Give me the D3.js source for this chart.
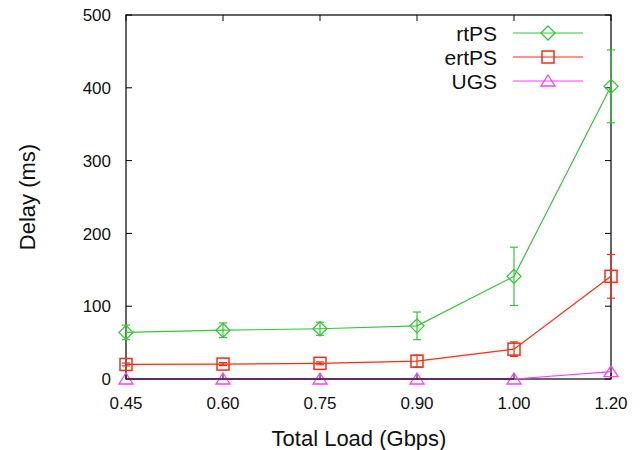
<!DOCTYPE html>
<html><head><meta charset="utf-8">
<script src="https://cdn.jsdelivr.net/npm/d3@7"></script>
<style>body{margin:0;background:#fff}svg{display:block}text{font-family:"Liberation Sans",Arial,sans-serif;fill:#111}</style>
</head><body>
<script>
const categories = ["0.45","0.60","0.75","0.90","1.00","1.20"];
const yTicks = [0,100,200,300,400,500];
const rtPS = [64,67,69,73,141,402];
const rtPSErr = [10,10,9,19,40,50];
const ertPS = [20,20.5,21.5,24.5,41,141];
const ertPSErr = [2,2,2,8,10,30];
const UGS = [0,0,0,0,0,10];
const UGSErr = [0,0,0,0,0,0];

const series = [
  {name:"rtPS", values:rtPS, err:rtPSErr, color:"#33c833", sym:"diamond"},
  {name:"ertPS", values:ertPS, err:ertPSErr, color:"#ff2a10", sym:"square"},
  {name:"UGS", values:UGS, err:UGSErr, color:"#ff40ff", sym:"triangle"}
];

const W=641,H=450, L=126,R=611,T=15,B=379;
const svg=d3.select("body").append("svg").attr("width",W).attr("height",H);
const x=d3.scalePoint().domain(categories).range([L,R]);
const y=d3.scaleLinear().domain([0,500]).range([B,T]);

const gAx=svg.append("g");
yTicks.forEach(t=>{
  gAx.append("line").attr("x1",L).attr("x2",L+6).attr("y1",y(t)).attr("y2",y(t)).attr("stroke","#000");
  gAx.append("line").attr("x1",R).attr("x2",R-6).attr("y1",y(t)).attr("y2",y(t)).attr("stroke","#000");
  gAx.append("text").attr("x",L-15).attr("y",y(t)).attr("dy","0.36em").attr("text-anchor","end").attr("font-size",17).text(t);
});
categories.forEach(c=>{
  gAx.append("line").attr("x1",x(c)).attr("x2",x(c)).attr("y1",B).attr("y2",B-6).attr("stroke","#000");
  gAx.append("line").attr("x1",x(c)).attr("x2",x(c)).attr("y1",T).attr("y2",T+6).attr("stroke","#000");
  gAx.append("text").attr("x",x(c)).attr("y",B+30).attr("text-anchor","middle").attr("font-size",17).text(c);
});
svg.append("rect").attr("x",L).attr("y",T).attr("width",R-L).attr("height",B-T).attr("fill","none").attr("stroke","#000").attr("stroke-width",1.2);

svg.append("text").attr("x",359).attr("y",446).attr("text-anchor","middle").attr("font-size",22).text("Total Load (Gbps)");
svg.append("text").attr("transform","translate(35,197) rotate(-90)").attr("text-anchor","middle").attr("font-size",22).text("Delay (ms)");

function marker(g,sym,cx,cy,color){
  if(sym==="diamond"){
    g.append("path").attr("d",`M${cx},${cy-7}L${cx+7},${cy}L${cx},${cy+7}L${cx-7},${cy}Z`).attr("fill","none").attr("stroke",color).attr("stroke-width",1.3);
  } else if(sym==="square"){
    g.append("rect").attr("x",cx-6).attr("y",cy-6).attr("width",12).attr("height",12).attr("fill","none").attr("stroke",color).attr("stroke-width",1.5);
  } else {
    g.append("path").attr("d",`M${cx},${cy-6}L${cx+7},${cy+5}L${cx-7},${cy+5}Z`).attr("fill","none").attr("stroke",color).attr("stroke-width",1.3);
  }
}

const line=d3.line().x((d,i)=>x(categories[i])).y(d=>y(d));
series.slice().reverse().forEach(s=>{
  const g=svg.append("g");
  g.append("path").datum(s.values).attr("d",line).attr("fill","none").attr("stroke",s.color).attr("stroke-width",1.2);
  s.values.forEach((v,i)=>{
    const cx=x(categories[i]);
    if(s.err[i]>0){
      const y1=y(v+s.err[i]), y2=y(v-s.err[i]);
      g.append("line").attr("x1",cx).attr("x2",cx).attr("y1",y1).attr("y2",y2).attr("stroke",s.color).attr("stroke-width",1.2);
      g.append("line").attr("x1",cx-4).attr("x2",cx+4).attr("y1",y1).attr("y2",y1).attr("stroke",s.color).attr("stroke-width",1.2);
      g.append("line").attr("x1",cx-4).attr("x2",cx+4).attr("y1",y2).attr("y2",y2).attr("stroke",s.color).attr("stroke-width",1.2);
    }
    marker(g,s.sym,cx,y(v),s.color);
  });
});
svg.append("line").attr("x1",L).attr("x2",x("1.00")).attr("y1",B).attr("y2",B).attr("stroke","#4a1a4a").attr("stroke-width",1.4);

series.forEach((s,i)=>{
  const ly=33+i*24;
  const g=svg.append("g");
  g.append("text").attr("x",497).attr("y",ly).attr("dy","0.36em").attr("text-anchor","end").attr("font-size",21).text(s.name);
  g.append("line").attr("x1",513).attr("x2",583).attr("y1",ly).attr("y2",ly).attr("stroke",s.color).attr("stroke-width",1.2);
  marker(g,s.sym,548,ly,s.color);
});
</script>
</body></html>
